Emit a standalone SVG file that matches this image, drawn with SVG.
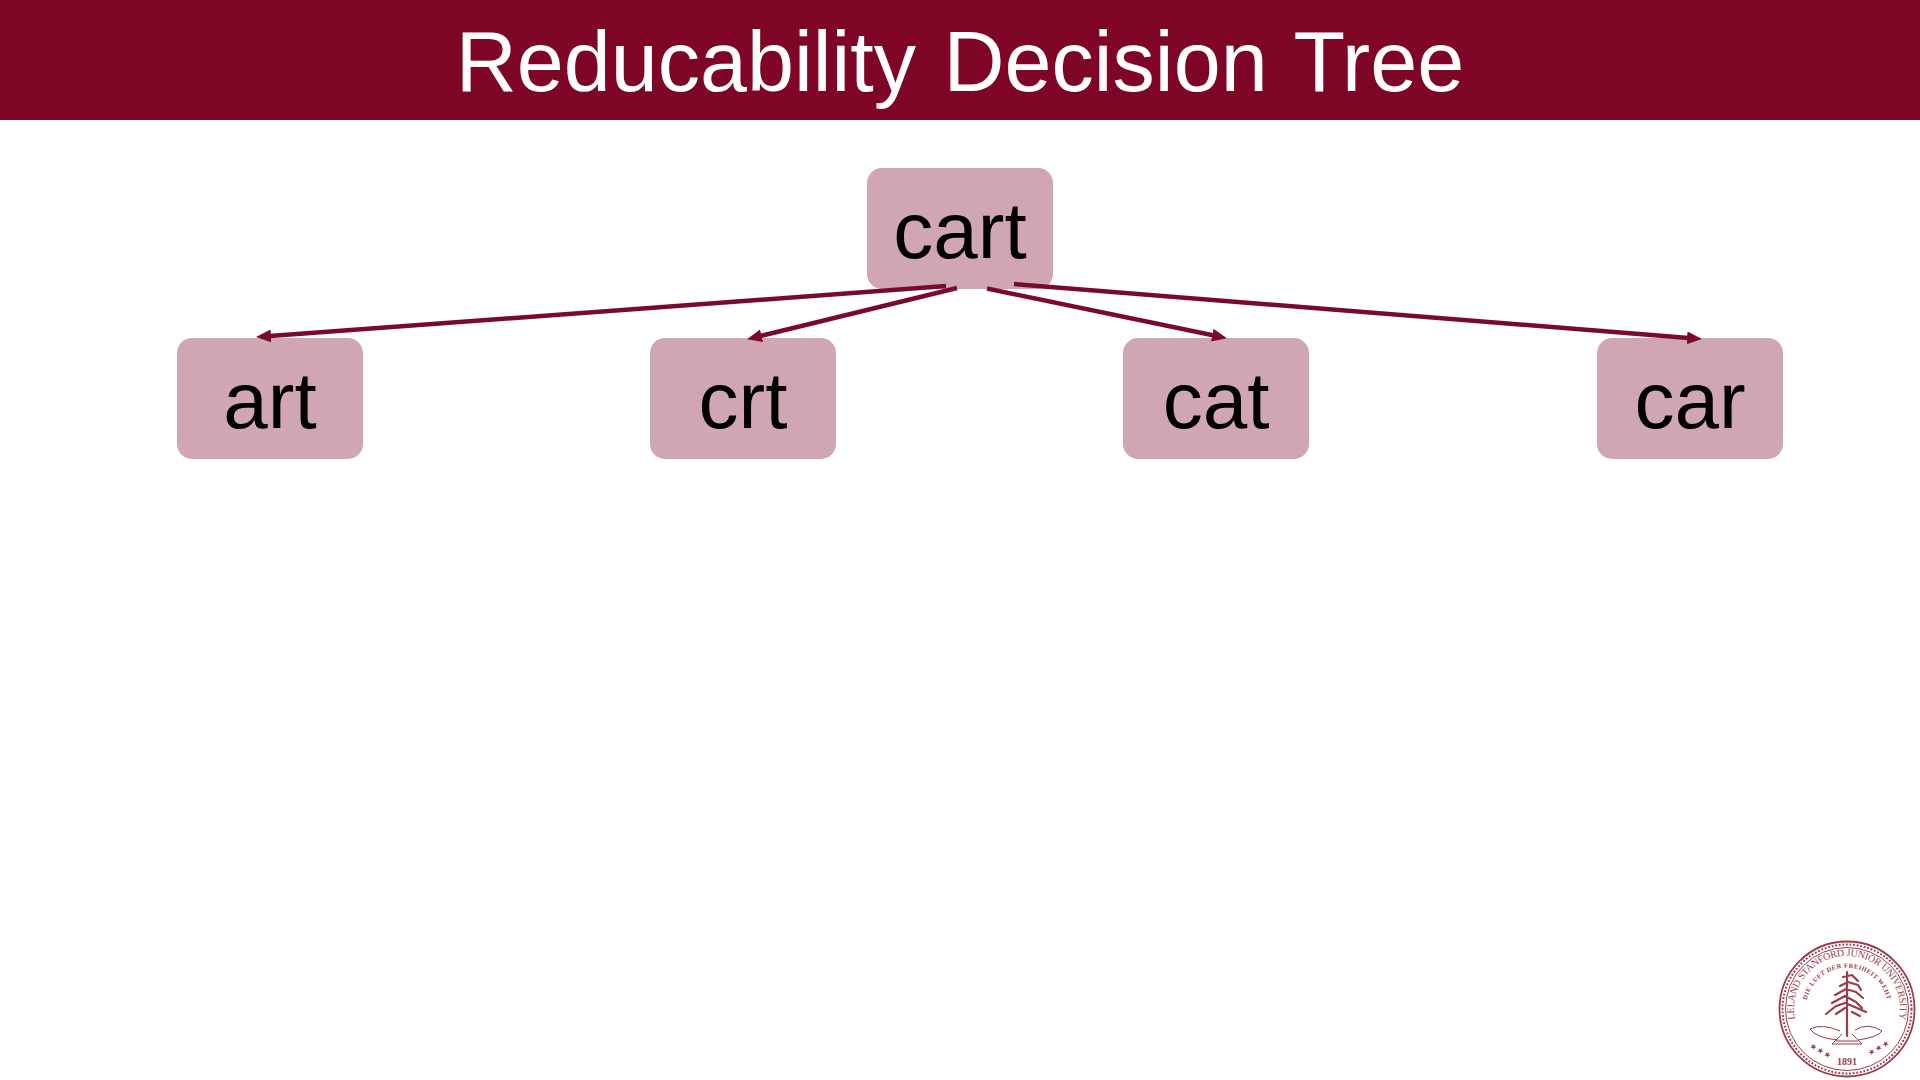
<svg xmlns="http://www.w3.org/2000/svg" width="1920" height="1080" viewBox="0 0 1920 1080">
<style>
.box{fill:#d0a6b3}
.lbl{font-family:"Liberation Sans",Arial,sans-serif;font-size:80px;fill:#000;text-anchor:middle}
.ttl{font-family:"Liberation Sans",Arial,sans-serif;font-size:84.500px;word-spacing:4px;fill:#fff;text-anchor:middle}
.edge{stroke:#7a0a2c;stroke-width:4.500;fill:none;marker-end:url(#ah)}
.s{fill:none;stroke:#9c3b49}
.st{font-family:"Liberation Serif",serif;fill:#9c3b49}
.tr{fill:none;stroke:#9c3b49;stroke-width:2.200;stroke-linecap:round;stroke-linejoin:round}
</style>
<defs>
<marker id="ah" markerUnits="userSpaceOnUse" markerWidth="17" markerHeight="14" refX="8" refY="6.500" orient="auto"><path d="M0 0L15 6.500L0 13Z" fill="#7a0a2c"/></marker>
<path id="outer" d="M1827 1058A53 53 0 1 1 1867 1058"/>
<path id="inner" d="M1830 1046A41 41 0 1 1 1864 1046"/>
</defs>
<rect width="1920" height="1080" fill="#fff"/>
<rect id="header" width="1920" height="120" fill="#7f0527"/>
<text class="ttl" x="960" y="91">Reducability Decision Tree</text>
<g id="cart"><rect class="box" x="867" y="168" width="186" height="121" rx="15"/><text class="lbl" x="960" y="258">cart</text></g>
<g id="art"><rect class="box" x="177" y="338" width="186" height="121" rx="15"/><text class="lbl" x="270" y="428">art</text></g>
<g id="crt"><rect class="box" x="650" y="338" width="186" height="121" rx="15"/><text class="lbl" x="743" y="428">crt</text></g>
<g id="cat"><rect class="box" x="1123" y="338" width="186" height="121" rx="15"/><text class="lbl" x="1216" y="428">cat</text></g>
<g id="car"><rect class="box" x="1597" y="338" width="186" height="121" rx="15"/><text class="lbl" x="1690" y="428">car</text></g>
<g id="connectors">
<line class="edge" x1="946" y1="286" x2="263" y2="336.600"/>
<line class="edge" x1="957" y1="288" x2="753.800" y2="337.600"/>
<line class="edge" x1="987" y1="288.500" x2="1220.100" y2="336.800"/>
<line class="edge" x1="1014" y1="284" x2="1695" y2="338.500"/>
</g>
<g id="seal">
<circle class="s" cx="1847" cy="1009" r="67.500" stroke-width="1.800"/>
<circle class="s" cx="1847" cy="1009" r="64.500" stroke-width="2" stroke-dasharray="1.800 1.800"/>
<circle class="s" cx="1847" cy="1009" r="61.500" stroke-width="1"/>
<text class="st" font-size="10" letter-spacing="-.25"><textPath href="#outer" startOffset="50%" text-anchor="middle">LELAND STANFORD JUNIOR UNIVERSITY</textPath></text>
<text class="st" font-size="6.500" font-weight="bold" letter-spacing=".4"><textPath href="#inner" startOffset="50%" text-anchor="middle">DIE LUFT DER       FREIHEIT WEHT</textPath></text>
<path class="tr" d="M1847 972V1036M1843 977L1852 975L1858 981M1840 986L1848 982L1858 985L1861 990M1835 995L1846 989L1856 992L1863 998M1832 1003L1845 996L1856 1002L1862 1008M1826 1014L1836 1006L1845 1003L1857 1008L1866 1012M1836 1014L1845 1008M1852 1012L1860 1016"/>
<path class="s" stroke-width="1" d="M1810 1029Q1822 1023 1840 1031M1855 1030Q1868 1022 1882 1031M1810 1029Q1816 1038 1838 1040M1882 1031Q1878 1037 1858 1040M1842 1034L1832 1044H1862L1852 1034M1836 1041L1858 1041"/>
<text class="st" font-size="8" x="1809" y="1047" transform="rotate(32 1809 1047)" letter-spacing="1">★★★</text>
<text class="st" font-size="8" x="1870" y="1056" transform="rotate(-32 1870 1056)" letter-spacing="1">★★★</text>
<text class="st" font-size="10" font-weight="bold" x="1847" y="1065" text-anchor="middle">1891</text>
</g>
</svg>
